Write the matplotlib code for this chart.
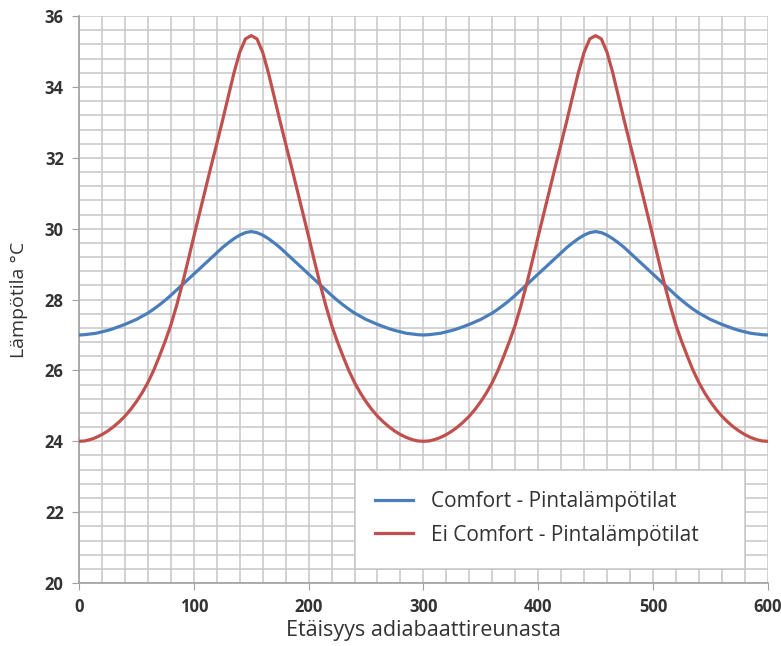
import matplotlib.pyplot as plt
from matplotlib.patches import Rectangle

# Etäisyys adiabaattireunasta
x = list(range(0, 601, 5))

comfort = [
    27.00, 27.01, 27.03, 27.05, 27.09, 27.13, 27.18, 27.24, 27.30, 27.37, 27.44,
    27.53, 27.62, 27.73, 27.85, 27.98, 28.12, 28.27, 28.42, 28.57, 28.72, 28.87,
    29.02, 29.17, 29.32, 29.47, 29.60, 29.72, 29.82, 29.89, 29.92,
    29.89, 29.82, 29.72, 29.60, 29.47, 29.32, 29.17, 29.02, 28.87, 28.72, 28.57,
    28.42, 28.27, 28.12, 27.98, 27.85, 27.73, 27.62, 27.53, 27.44, 27.37, 27.30,
    27.24, 27.18, 27.13, 27.09, 27.05, 27.03, 27.01, 27.00,
    27.01, 27.03, 27.05, 27.09, 27.13, 27.18, 27.24, 27.30, 27.37, 27.44,
    27.53, 27.62, 27.73, 27.85, 27.98, 28.12, 28.27, 28.42, 28.57, 28.72, 28.87,
    29.02, 29.17, 29.32, 29.47, 29.60, 29.72, 29.82, 29.89, 29.92,
    29.89, 29.82, 29.72, 29.60, 29.47, 29.32, 29.17, 29.02, 28.87, 28.72, 28.57,
    28.42, 28.27, 28.12, 27.98, 27.85, 27.73, 27.62, 27.53, 27.44, 27.37, 27.30,
    27.24, 27.18, 27.13, 27.09, 27.05, 27.03, 27.01, 27.00,
]

ei_comfort = [
    24.00, 24.01, 24.05, 24.11, 24.19, 24.29, 24.41, 24.55, 24.71, 24.90, 25.12,
    25.37, 25.66, 26.00, 26.40, 26.82, 27.28, 27.83, 28.44, 29.10, 29.78, 30.44,
    31.10, 31.76, 32.40, 33.05, 33.73, 34.40, 34.98, 35.36, 35.45,
    35.36, 34.98, 34.40, 33.73, 33.05, 32.40, 31.76, 31.10, 30.44, 29.78, 29.10,
    28.44, 27.83, 27.28, 26.82, 26.40, 26.00, 25.66, 25.37, 25.12, 24.90, 24.71,
    24.55, 24.41, 24.29, 24.19, 24.11, 24.05, 24.01, 24.00,
    24.01, 24.05, 24.11, 24.19, 24.29, 24.41, 24.55, 24.71, 24.90, 25.12,
    25.37, 25.66, 26.00, 26.40, 26.82, 27.28, 27.83, 28.44, 29.10, 29.78, 30.44,
    31.10, 31.76, 32.40, 33.05, 33.73, 34.40, 34.98, 35.36, 35.45,
    35.36, 34.98, 34.40, 33.73, 33.05, 32.40, 31.76, 31.10, 30.44, 29.78, 29.10,
    28.44, 27.83, 27.28, 26.82, 26.40, 26.00, 25.66, 25.37, 25.12, 24.90, 24.71,
    24.55, 24.41, 24.29, 24.19, 24.11, 24.05, 24.01, 24.00,
]

plt.rcParams['font.family'] = ['Open Sans', 'DejaVu Sans']

fig = plt.figure(figsize=(7.81, 6.46), dpi=100)
ax = fig.add_axes([0.1012, 0.0975, 0.8818, 0.8775])

ax.plot(x, comfort, color='#4a7ebb', lw=2.3, solid_joinstyle='round',
        label='Comfort - Pintalämpötilat', zorder=3)
ax.plot(x, ei_comfort, color='#c0504d', lw=2.3, solid_joinstyle='round',
        label='Ei Comfort - Pintalämpötilat', zorder=3)

ax.set_xlim(0, 600)
ax.set_ylim(20, 36)
ax.set_xticks(range(0, 601, 100))
ax.set_yticks(range(20, 37, 2))
ax.set_xticks(range(0, 601, 20), minor=True)
ax.set_yticks([20 + 0.4 * i for i in range(41)], minor=True)
ax.grid(which='both', color='#c6c6c6', lw=1.1, zorder=0)
ax.tick_params(which='minor', length=0)
ax.tick_params(which='major', length=5, color='#a0a0a0', labelsize=12,
               labelcolor='#333333', pad=6)
for lab in ax.get_xticklabels() + ax.get_yticklabels():
    lab.set_fontweight('bold')

for s in ['top', 'right']:
    ax.spines[s].set_visible(False)
for s in ['left', 'bottom']:
    ax.spines[s].set_color('#a0a0a0')
    ax.spines[s].set_linewidth(1.2)

ax.set_xlabel('Etäisyys adiabaattireunasta', fontsize=15.5, color='#333333')
ax.set_ylabel('Lämpötila °C', fontsize=14, color='#333333')
ax.xaxis.set_label_coords(0.5, -0.066)
ax.yaxis.set_label_coords(-0.074, 0.5)

# valkoinen selitelaatikko
ax.add_patch(Rectangle((240, 20.4), 340, 2.8, facecolor='white',
                       edgecolor='#c6c6c6', lw=1.1, zorder=4))
leg = ax.legend(loc='center left', bbox_to_anchor=(258, 21.82),
                bbox_transform=ax.transData, fontsize=15, frameon=False,
                handlelength=1.8, handletextpad=0.9, labelspacing=0.6,
                borderpad=0, borderaxespad=0, labelcolor='#333333')
leg.set_zorder(5)

fig.savefig('out.png', dpi=100)
